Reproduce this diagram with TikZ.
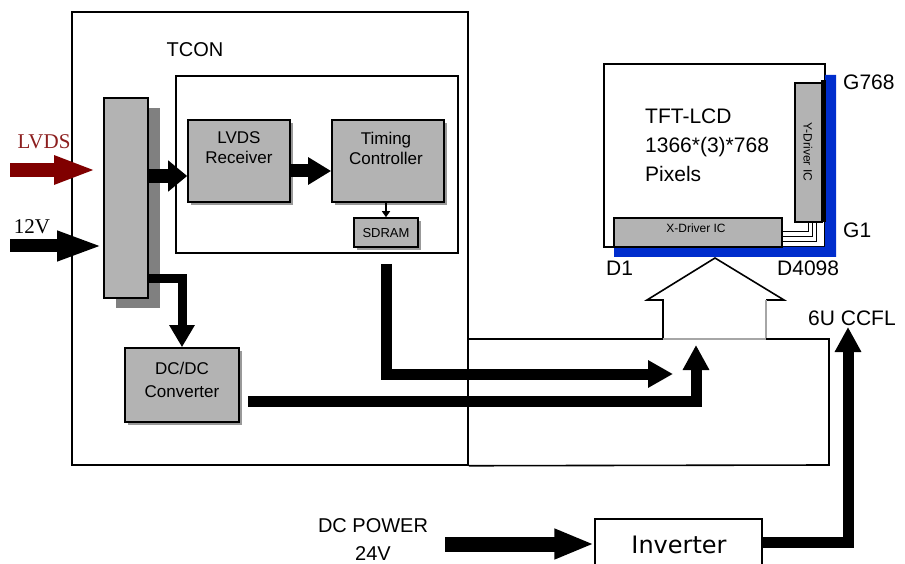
\documentclass[tikz,border=0pt]{standalone}
\usepackage{fontspec}
\setmainfont{Liberation Sans}
\newfontfamily\serifF{Liberation Serif}
\newfontfamily\invF{DejaVu Sans}
\usetikzlibrary{arrows.meta,shadows}
\definecolor{boxgray}{RGB}{179,179,179}
\definecolor{shadowgray}{RGB}{128,128,128}
\definecolor{lvdsred}{RGB}{128,0,0}
\definecolor{lvdstext}{RGB}{140,30,30}
\definecolor{panelblue}{RGB}{0,45,205}
\newcommand{\fsz}[2]{\fontsize{#1}{#2}\selectfont}
\begin{document}
\begin{tikzpicture}[x=1pt,y=-1pt,
  gbox/.style={draw=black, line width=1.6pt, fill=boxgray, inner sep=0pt,
    general shadow={fill=black!40, shadow xshift=3pt, shadow yshift=-3pt}},
  barbox/.style={draw=black, line width=1.6pt, fill=boxgray, inner sep=0pt,
    general shadow={fill=shadowgray, shadow xshift=12pt, shadow yshift=-10pt}},
  frame/.style={draw=black, line width=1.5pt, inner sep=0pt},
  icbox/.style={draw=black, line width=1.6pt, fill=boxgray, inner sep=0pt},
  thinline/.style={draw=black, line width=1.6pt},
  lbl/.style={inner sep=0pt, anchor=center}
]
\clip (0,0) rectangle (905,564);
\fill[white] (0,0) rectangle (905,564);

% TCON frames
\node[frame, minimum width=396pt, minimum height=453pt] (tcon) at (270,238.5) {};
\node[frame, minimum width=282pt, minimum height=177pt] (inner) at (317,164.5) {};
\node[lbl, font=\fsz{20}{24}] at (195,50) {TCON};

% blocks
\node[barbox, minimum width=44pt, minimum height=200pt] (bar) at (126,198) {};
\node[gbox, minimum width=102pt, minimum height=82pt] (rx) at (239,161) {};
\node[lbl, align=center, font=\fsz{17}{20}] at (239,148) {LVDS\\Receiver};
\node[gbox, minimum width=112pt, minimum height=82pt] (tc) at (388,161) {};
\node[lbl, align=center, font=\fsz{17}{20}] at (386,148) {Timing\\Controller};
\node[gbox, minimum width=64pt, minimum height=29pt] (sd) at (386,232.5) {};
\node[lbl, font=\fsz{13}{15}] at (386,233) {SDRAM};
\node[gbox, minimum width=114pt, minimum height=74pt] (dc) at (182,385) {};
\node[lbl, align=center, font=\fsz{17}{23}] at (182,379.5) {DC/DC\\Converter};

% panel
\node[frame, fill=white, minimum width=221pt, minimum height=183pt] (panel) at (714.5,155.5) {};
\fill[panelblue] (825,75) -- (836,75) -- (836,257) -- (614,257) -- (614,247) -- (825,247) -- cycle;
\fill[black] (821,80) rectangle (826,222);
\node[icbox, minimum width=168pt, minimum height=29pt] (xdrv) at (698,232.5) {};
\node[lbl, font=\fsz{12}{14}] at (696,228) {X-Driver IC};
\node[icbox, minimum width=27pt, minimum height=139pt] (ydrv) at (808.5,152.5) {};
\node[lbl, rotate=-90, font=\fsz{12}{14}] at (808,152) {Y-Driver IC};
\draw[draw=black, line width=1pt] (ydrv.south -| 808,0) |- (xdrv.east |- 0,232);
\draw[draw=black, line width=1pt] (ydrv.south -| 812,0) |- (xdrv.east |- 0,237);
\draw[draw=black, line width=1pt] (ydrv.south -| 816,0) |- (xdrv.east |- 0,242);
\node[lbl, anchor=west, align=left, font=\fsz{21}{29}] at (645,145) {TFT-LCD\\1366*(3)*768\\Pixels};
\node[lbl, anchor=west, font=\fsz{21}{24}] at (843,82) {G768};
\node[lbl, anchor=west, font=\fsz{21}{24}] at (843,230) {G1};
\node[lbl, anchor=west, font=\fsz{21}{24}] at (606,268) {D1};
\node[lbl, anchor=west, font=\fsz{21}{24}] at (777,268) {D4098};
\node[lbl, anchor=west, font=\fsz{21}{24}] at (808,318) {6U CCFL};

% house arrow and thin outline
\coordinate (hl) at (663,339);
\coordinate (hr) at (766,339);
\draw[thinline, line join=miter] (hl) -- (663,300) -- (647,300) -- (715,258) -- (784,300) -- (766,300);
\draw[thinline, draw=black!35] (766,300) -- (hr) -- (hl);
\draw[thinline] (tcon.east |- hl) -- (hl);
\draw[thinline] (hr) -- (829,339) -- (829,465) -- (tcon.south east);

% inverter
\node[frame, line width=1.5pt, minimum width=167pt, minimum height=54pt] (inv) at (678.5,546) {};
\node[lbl, font=\invF\fsz{24}{28}] at (679,545) {Inverter};
\node[lbl, align=center, font=\fsz{20}{28}] at (373,540) {DC POWER\\24V};

% input labels
\node[lbl, text=lvdstext, font=\serifF\fsz{21}{24}] at (44,142) {LVDS};
\node[lbl, font=\serifF\fsz{21}{24}] at (32,227) {12V};

% arrows
\coordinate (lvdsIn) at (10,170);
\draw[lvdsred, line width=14pt, -{Triangle[length=42pt,width=26pt]}, shorten >=7pt] (lvdsIn) -- (lvdsIn -| bar.west);
\coordinate (vIn) at (10,246);
\draw[line width=13pt, -{Triangle[length=46pt,width=27pt]}] (vIn) -- (vIn -| bar.west);
\coordinate (brY) at (0,176);
\draw[line width=14pt, -{Triangle[length=19pt,width=30pt]}] (bar.east |- brY) -- (rx.west |- brY);
\coordinate (rtY) at (0,171);
\draw[line width=13pt, -{Triangle[length=23pt,width=26pt]}] (rx.east |- rtY) -- (tc.west |- rtY);
\draw[line width=1.5pt, -{Triangle[length=6pt,width=8pt]}] (sd.north |- tc.south) -- (sd.north);
\coordinate (bdY) at (0,278);
\draw[line width=9pt, -{Triangle[length=22pt,width=24pt]}] (bar.east |- bdY) -| (dc.north);
\coordinate (lcdIn1) at (673,374);
\draw[line width=11pt, -{Triangle[length=25pt,width=26pt]}] ([yshift=-16pt]sd.south) |- (lcdIn1);
\coordinate (dcOut) at (248,401);
\coordinate (lcdIn2) at (696,345);
\draw[line width=11pt, -{Triangle[length=25pt,width=25pt]}] (dcOut) -| (lcdIn2);
\coordinate (dcp) at (445,544);
\draw[line width=15pt, -{Triangle[length=40pt,width=28pt]}] (dcp) -- (dcp -| inv.west);
\coordinate (ccfl) at (848,327);
\draw[line width=11pt, -{Triangle[length=25pt,width=25pt]}] (inv.east |- 0,542) -| (ccfl);
\end{tikzpicture}
\end{document}
